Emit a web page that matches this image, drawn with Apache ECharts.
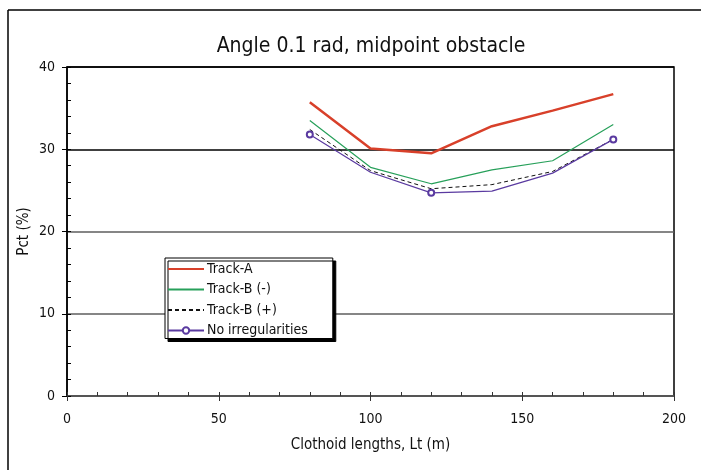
<!DOCTYPE html>
<html>
<head>
<meta charset="utf-8">
<script src="https://cdn.jsdelivr.net/npm/echarts@6/dist/echarts.min.js"></script>
<style>
  html, body { margin: 0; padding: 0; background: #fff; }
  #chart { width: 701px; height: 470px; }
</style>
</head>
<body>
<div id="chart"></div>
<script>
// Clothoid lengths (m)
const lengths = [80, 100, 120, 140, 160, 180];
// Pct (%) per track
const trackA = [35.7, 30.1, 29.5, 32.8, 34.7, 36.7];
const trackBMinus = [33.5, 27.8, 25.8, 27.5, 28.6, 33.0];
const trackBPlus = [32.4, 27.4, 25.2, 25.7, 27.3, 31.2];
const noIrreg = [31.8, 27.2, 24.7, 24.9, 27.1, 31.2];
// points of "No irregularities" that carry a marker
const markedIdx = [0, 2, 5];

const font = '"Liberation Sans Narrow", "DejaVu Sans Condensed", "Roboto Condensed", sans-serif';

const chart = echarts.init(document.getElementById('chart'));

const pairs = vals => lengths.map((x, i) => [x, vals[i]]);

const option = {
  animation: false,
  textStyle: { fontFamily: font },
  title: {
    text: 'Angle 0.1 rad, midpoint obstacle',
    left: 366,
    textAlign: 'center',
    top: 31,
    textStyle: { fontFamily: font, fontSize: 21, fontWeight: 'normal', color: '#111' }
  },
  graphic: [
    { type: 'line', shape: { x1: 8, y1: 10, x2: 701, y2: 10 }, style: { stroke: '#000', lineWidth: 1.5 } },
    { type: 'line', shape: { x1: 8, y1: 10, x2: 8, y2: 470 }, style: { stroke: '#000', lineWidth: 1.5 } }
  ],
  grid: {
    left: 67, right: 27, top: 67, bottom: 74,
    show: true, borderColor: '#000', borderWidth: 1.5
  },
  legend: {
    orient: 'vertical',
    left: 165, top: 258,
    padding: [4, 25, 1, 2],
    itemGap: 6.5,
    itemWidth: 36,
    itemHeight: 8,
    backgroundColor: '#fff',
    borderColor: '#000',
    borderWidth: 1,
    shadowColor: '#000',
    shadowBlur: 0,
    shadowOffsetX: 3,
    shadowOffsetY: 3,
    itemStyle: { opacity: 0 },
    textStyle: { fontFamily: font, fontSize: 14, color: '#111', padding: [0, 0, 0, -2] },
    data: [
      'Track-A', 'Track-B (-)', 'Track-B (+)',
      { name: 'No irregularities', itemStyle: { opacity: 1 } }
    ]
  },
  xAxis: [
    {
      type: 'value', min: 0, max: 200, interval: 50,
      name: 'Clothoid lengths, Lt (m)', nameLocation: 'middle', nameGap: 42,
      nameMoveOverlap: false,
      nameTextStyle: { fontFamily: font, fontSize: 15, color: '#111' },
      axisLine: { onZero: false, lineStyle: { color: '#555', width: 1.5 } },
      axisTick: { show: true, inside: true, length: 4, lineStyle: { color: '#333' } },
      minorTick: { show: true, splitNumber: 5, length: 4, lineStyle: { color: '#333' } },
      axisLabel: { fontFamily: font, fontSize: 14, color: '#111', margin: 16 },
      splitLine: { show: false }
    },
    {
      type: 'value', min: 0, max: 200, interval: 50, position: 'bottom',
      axisLine: { show: false },
      axisTick: { show: true, inside: false, length: 5, lineStyle: { color: '#333' } },
      axisLabel: { show: false },
      splitLine: { show: false }
    }
  ],
  yAxis: [
    {
      type: 'value', min: 0, max: 40, interval: 10,
      name: 'Pct (%)', nameLocation: 'middle', nameGap: 35,
      nameMoveOverlap: false,
      nameTextStyle: { fontFamily: font, fontSize: 15, color: '#111' },
      axisLine: { show: true, lineStyle: { color: '#000', width: 1.5 } },
      axisTick: { show: true, inside: true, length: 4, lineStyle: { color: '#000' } },
      minorTick: { show: true, splitNumber: 5, length: 4, lineStyle: { color: '#000' } },
      axisLabel: { fontFamily: font, fontSize: 14, color: '#111', margin: 12 },
      splitLine: {
        show: true,
        lineStyle: { color: ['#5e5e5e', '#5e5e5e', '#5e5e5e', '#000', '#000'], width: 1.5 }
      }
    },
    {
      type: 'value', min: 0, max: 40, interval: 10, position: 'left',
      axisLine: { show: false },
      axisTick: { show: true, inside: false, length: 5, lineStyle: { color: '#000' } },
      axisLabel: { show: false },
      splitLine: { show: false }
    }
  ],
  series: [
    {
      name: 'Track-A', type: 'line', data: pairs(trackA),
      symbol: 'none', color: '#d8402a',
      lineStyle: { color: '#d8402a', width: 2.5 }
    },
    {
      name: 'Track-B (-)', type: 'line', data: pairs(trackBMinus),
      symbol: 'none', color: '#27a05a',
      lineStyle: { color: '#27a05a', width: 1.2 }
    },
    {
      name: 'Track-B (+)', type: 'line', data: pairs(trackBPlus),
      symbol: 'none', color: '#111',
      lineStyle: { color: '#111', width: 1, type: [4, 3] }
    },
    {
      name: 'No irregularities', type: 'line',
      data: pairs(noIrreg).map((p, i) => markedIdx.includes(i) ? { value: p } : { value: p, symbol: 'none' }),
      symbol: 'emptyCircle', symbolSize: 6, color: '#5a3aa0',
      itemStyle: { color: '#5a3aa0', borderWidth: 1.2 },
      lineStyle: { color: '#5a3aa0', width: 1.2 }
    }
  ]
};

chart.setOption(option);
</script>
</body>
</html>
